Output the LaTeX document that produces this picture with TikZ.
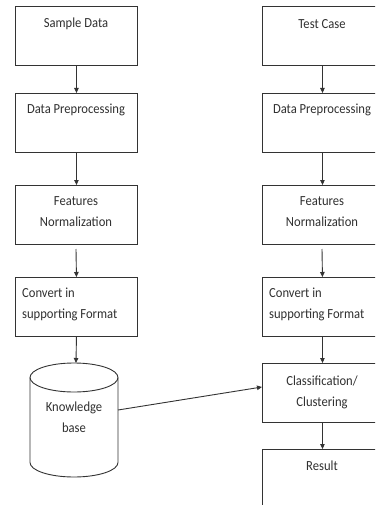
\documentclass[tikz,border=0pt]{standalone}
\usepackage{fontspec}
\usepackage{graphicx}
\setmainfont{Carlito}
\usetikzlibrary{arrows.meta}
\definecolor{ink}{HTML}{333333}
\definecolor{txt}{HTML}{303030}
\newcommand\vs[1]{\scalebox{1}[1.1]{#1}}
\begin{document}
\begin{tikzpicture}[x=1pt,y=-1pt,
  box/.style={draw=ink, line width=0.9pt, minimum width=122pt, minimum height=59pt, inner sep=0pt, anchor=north west},
  lbl/.style={text=txt, font=\fontsize{12.6}{21}\selectfont, inner sep=0pt},
  conn/.style={draw=ink, line width=0.9pt, -{Triangle[length=5pt,width=4.5pt]}}]
\useasboundingbox (0,0) rectangle (375,505);
\clip (0,0) rectangle (375,505);
\fill[white] (0,0) rectangle (375,505);
% left column
\node[box] (l1) at (15,6) {};
\node[box] (l2) at (15,93) {};
\node[box] (l3) at (15,185) {};
\node[box] (l4) at (15,277) {};
\node[lbl] (t1) at (76,24) {\vs{Sample Data}};
\node[lbl] (t2) at (76,110) {\vs{Data Preprocessing}};
\node[lbl, align=center] (t3) at (76,212) {\vs{Features}\\\vs{Normalization}};
\node[lbl, align=left, anchor=west] (t4) at (22,304) {\vs{Convert in}\\\vs{supporting Format}};
% cylinder
\draw[ink, line width=0.9pt, fill=white] (30,377.5) -- (30,462.5) arc[start angle=180, end angle=360, x radius=44, y radius=-14.5] -- (118,377.5);
\draw[ink, line width=0.9pt] (74,377.5) ellipse[x radius=44, y radius=14.5];
\node[lbl, align=center] (kb) at (74,417) {\vs{Knowledge}\\\vs{base}};
\coordinate (kbr) at (118,410);
\coordinate (cyltop) at (76,363);
% right column
\node[box, minimum width=120pt] (r1) at (262,6) {};
\node[box, minimum width=120pt] (r2) at (262,93) {};
\node[box, minimum width=120pt] (r3) at (262,185) {};
\node[box, minimum width=120pt] (r4) at (262,277) {};
\node[box, minimum width=120pt] (r5) at (262,363) {};
\node[box, minimum width=120pt, minimum height=80pt] (r6) at (262,449) {};
\node[lbl] (u1) at (322,24) {\vs{Test Case}};
\node[lbl] (u2) at (322,110) {\vs{Data Preprocessing}};
\node[lbl, align=center] (u3) at (322,212) {\vs{Features}\\\vs{Normalization}};
\node[lbl, align=left, anchor=west] (u4) at (269,304) {\vs{Convert in}\\\vs{supporting Format}};
\node[lbl, align=center] (u5) at (322,392) {\vs{Classification/}\\\vs{Clustering}};
\node[lbl] (u6) at (322,466) {\vs{Result}};
% connectors
\coordinate (l3b) at (76,249);
\coordinate (r3b) at (322,249);
\coordinate (clsin) at (262,387);
\draw[conn] (l1.south) -- (l2.north -| l1.south);
\draw[conn] (l2.south) -- (l3.north);
\draw[conn] (l3b) -- (l4.north);
\draw[conn] (l4.south) -- (cyltop);
\draw[conn] (r1.south) -- (r2.north);
\draw[conn] (r2.south) -- (r3.north);
\draw[conn] (r3b) -- (r4.north);
\draw[conn] (r4.south) -- (r5.north);
\draw[conn] (r5.south) -- (r6.north);
\draw[conn] (kbr) -- (clsin);
\end{tikzpicture}
\end{document}
